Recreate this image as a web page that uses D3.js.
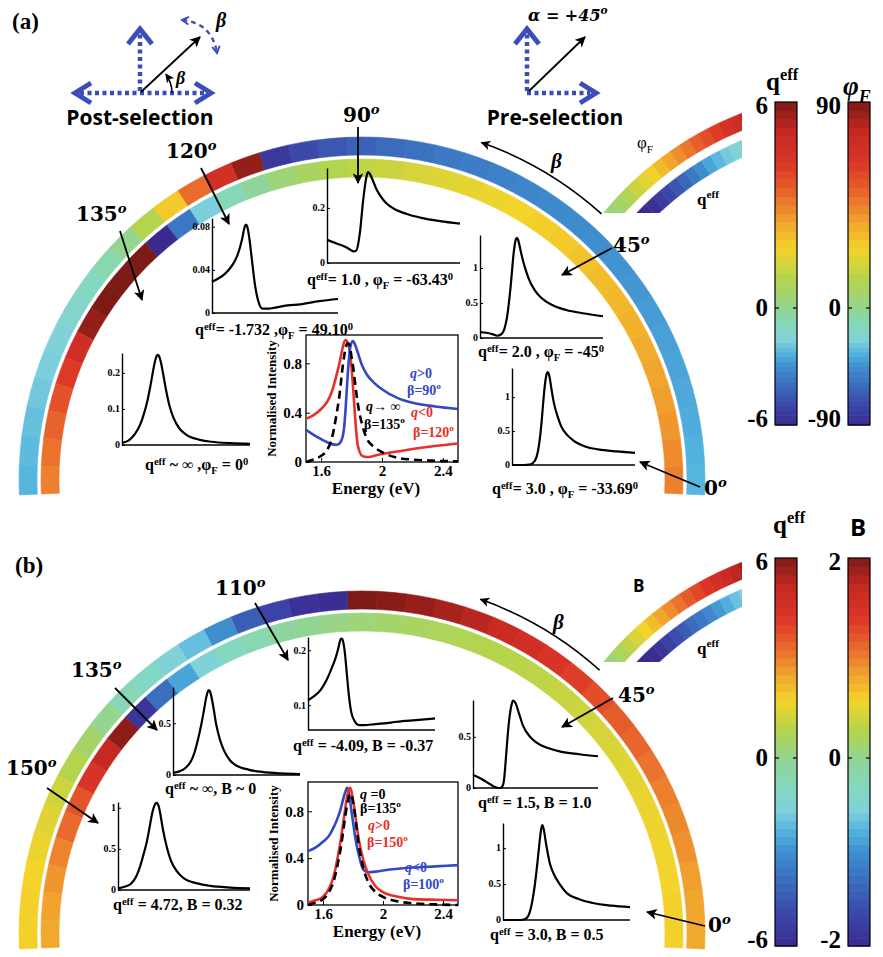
<!DOCTYPE html>
<html>
<head>
<meta charset="utf-8">
<script src="https://cdn.jsdelivr.net/npm/d3@7"></script>
<style>
  body { margin: 0; background: #fff; }
  svg { display: block; }
</style>
</head>
<body>
<div id="chart"></div>
<script>
// ---------------- data ----------------
// post-selection angle of every ring segment (deg)
var betaDeg = [0,5,10,15,20,25,30,35,40,45,50,55,60,65,70,75,80,85,90,
  95,100,105,110,115,120,125,130,135,140,145,150,155,160,165,170,175,180];

// panel (a): outer ring = phi_F (deg), inner ring = q_eff
var phiA = [-33.7,-35.2,-36.5,-37.8,-39.0,-40.2,-41.4,-42.6,-43.8,-45.0,-46.3,-47.6,-49.1,
  -50.7,-52.5,-54.6,-57.0,-59.9,-63.4,-68.0,-74.0,-82.4,85.9,69.5,49.1,28.6,12.0,0,
  -8.5,-14.6,-19.2,-22.8,-25.8,-28.2,-30.3,-32.1,-33.7];
var qeffA = [3.0,2.84,2.70,2.58,2.47,2.36,2.27,2.18,2.09,2.0,1.91,1.82,1.73,1.64,1.53,
  1.42,1.30,1.16,1.0,0.81,0.57,0.27,-0.14,-0.75,-1.73,-3.67,-9.4,99,13.4,7.67,5.73,
  4.75,4.15,3.73,3.43,3.19,3.0];

// panel (b): outer ring = B, inner ring = q_eff
var bB = [0.8,0.82,0.86,0.92,0.96,1.0,1.06,1.12,1.18,1.26,1.36,1.46,1.56,1.66,1.76,1.84,
  1.9,1.95,2.0,-1.95,-1.9,-1.7,-1.45,-1.0,-0.68,-0.52,-0.36,-0.24,0.0,0.16,0.28,0.4,
  0.48,0.54,0.58,0.6,0.6];
var qeffB = [1.8,1.78,1.74,1.7,1.64,1.58,1.5,1.42,1.32,1.2,1.1,1.0,0.92,0.84,0.76,0.66,
  0.56,0.44,0.3,0.12,-0.06,-0.3,-0.6,-0.95,-1.5,-2.6,-3.9,-5.6,5.8,5.1,4.4,3.7,3.3,
  2.95,2.7,2.5,2.4];

// small legend arcs (left end -> right end)
var legPhiA = [0,3,7,12,17,22,27,32,37,42,47,52,57,62,67,72,78,84,89];
var legQA = [-6,-6,-6,-6,-5.8,-5.4,-5,-4.6,-4.1,-3.6,-3.1,-2.6,-2.2,-1.8,-1.5,-1.2,-0.9,-0.7,-0.5];
var legBB = [0,0.1,0.22,0.34,0.46,0.58,0.7,0.82,0.94,1.06,1.18,1.3,1.42,1.54,1.65,1.75,1.85,1.93,2.0];
var legQB = [-6,-6,-6,-6,-5.9,-5.6,-5.2,-4.8,-4.4,-4.0,-3.6,-3.2,-2.8,-2.4,-2.0,-1.7,-1.4,-1.2,-1.0];

// energy grid of all spectra (eV)
var energy = [1.50,1.55,1.60,1.64,1.67,1.70,1.72,1.74,1.75,1.76,1.77,1.78,1.79,1.80,
  1.81,1.82,1.84,1.87,1.90,1.95,2.00,2.10,2.20,2.35,2.50];

// inset spectra, panel (a)
var specA90 = [0.084,0.075,0.066,0.058,0.050,0.042,0.045,0.085,0.12,0.17,0.22,0.26,0.295,
  0.32,0.33,0.325,0.305,0.27,0.245,0.215,0.198,0.178,0.165,0.152,0.143];
var specA120 = [0.029,0.032,0.036,0.041,0.046,0.053,0.060,0.069,0.075,0.080,0.082,0.080,
  0.074,0.066,0.056,0.046,0.027,0.010,0.004,0.004,0.005,0.007,0.008,0.011,0.013];
var specA135 = [0.006,0.012,0.03,0.055,0.085,0.125,0.16,0.2,0.219,0.235,0.246,0.25,0.246,
  0.235,0.219,0.2,0.16,0.11,0.077,0.045,0.029,0.015,0.009,0.005,0.003];
var specA45 = [0.086,0.075,0.055,0.032,0.05,0.14,0.30,0.58,0.75,0.95,1.15,1.30,1.40,1.43,
  1.40,1.33,1.17,0.98,0.83,0.67,0.57,0.46,0.40,0.35,0.31];
var specA0 = [0,0,0,0.005,0.03,0.12,0.30,0.62,0.84,1.05,1.22,1.33,1.37,1.34,1.25,1.13,
  0.92,0.72,0.57,0.44,0.36,0.27,0.23,0.20,0.18];
// normalised spectra, panel (a)
var normA120 = [0.35,0.38,0.43,0.49,0.57,0.70,0.80,0.92,0.97,0.99,0.98,0.95,0.88,0.76,
  0.60,0.42,0.14,0.05,0.04,0.05,0.065,0.085,0.105,0.13,0.15];
var normA90 = [0.26,0.22,0.185,0.16,0.145,0.14,0.15,0.20,0.27,0.42,0.62,0.80,0.92,0.97,
  0.98,0.96,0.89,0.78,0.71,0.64,0.59,0.52,0.48,0.45,0.43];
var normA135 = [0.0,0.02,0.05,0.10,0.19,0.38,0.54,0.76,0.85,0.92,0.96,0.96,0.92,0.85,0.77,
  0.67,0.48,0.30,0.19,0.12,0.08,0.035,0.02,0.01,0.005];

// inset spectra, panel (b)
var specB110 = [0.109,0.117,0.128,0.143,0.158,0.175,0.188,0.205,0.215,0.221,0.220,0.212,
  0.196,0.172,0.146,0.122,0.088,0.070,0.064,0.064,0.065,0.067,0.070,0.073,0.076];
var specB135 = [0.02,0.035,0.07,0.13,0.22,0.36,0.47,0.60,0.67,0.74,0.79,0.82,0.81,0.77,
  0.71,0.64,0.49,0.34,0.24,0.14,0.09,0.05,0.03,0.015,0.008];
var specB150 = [0.02,0.04,0.08,0.17,0.30,0.47,0.60,0.77,0.86,0.94,1.00,1.04,1.06,1.05,
  1.01,0.93,0.74,0.52,0.36,0.22,0.14,0.08,0.05,0.03,0.02];
var specB45 = [0.127,0.10,0.065,0.035,0.012,0.0,0.0,0.03,0.10,0.24,0.40,0.55,0.67,0.76,
  0.82,0.855,0.83,0.72,0.61,0.51,0.45,0.39,0.355,0.33,0.31];
var specB0 = [0,0,0,0,0.01,0.06,0.17,0.36,0.48,0.62,0.78,0.95,1.12,1.26,1.32,1.27,1.05,
  0.78,0.64,0.49,0.38,0.29,0.24,0.20,0.18];
// normalised spectra, panel (b)
var normB100 = [0.46,0.49,0.54,0.59,0.66,0.75,0.83,0.93,0.97,1.0,0.97,0.90,0.80,0.71,0.62,
  0.54,0.42,0.30,0.28,0.285,0.295,0.31,0.32,0.33,0.34];
var normB150 = [0.02,0.04,0.07,0.14,0.24,0.42,0.57,0.75,0.84,0.92,0.98,1.0,0.97,0.90,0.82,
  0.72,0.55,0.38,0.27,0.16,0.11,0.07,0.05,0.045,0.04];
var normB135 = [0.0,0.02,0.05,0.11,0.20,0.36,0.50,0.68,0.77,0.85,0.91,0.95,0.94,0.88,0.80,
  0.70,0.50,0.31,0.20,0.11,0.07,0.03,0.015,0.005,0.0];

// ---------------- setup ----------------
var W = 883, H = 957;
var serif = "'Liberation Serif','Times New Roman',serif";
var dserif = "'DejaVu Serif',serif";
var sans = "'Open Sans','Liberation Sans',sans-serif";
var blueArrow = "#3b4db8";
var lineBlue = "#3447c4", lineRed = "#e8302a";

var svg = d3.select("#chart").append("svg")
  .attr("width", W).attr("height", H);

// jet-like colour map (t in 0..1)
var jet = d3.scaleLinear()
  .domain([0,0.08,0.17,0.25,0.31,0.36,0.42,0.49,0.57,0.645,0.72,0.78,0.85,0.93,1])
  .range(["#3a2a8e","#3b45a8","#3a6cbd","#3f8fcf","#55b4de","#80d0dc","#84d8c0",
          "#8fd59a","#b4d44c","#f4d42a","#f09a2e","#e8662c","#dc3628","#c42822","#7c1a16"])
  .clamp(true);
var tQ = d3.scaleLinear().domain([-6, 6]).range([0, 1]).clamp(true);
var tPhi = d3.scaleLinear().domain([-90, 90]).range([0, 1]).clamp(true);
var tB = d3.scaleLinear().domain([-2, 2]).range([0, 1]).clamp(true);

var defs = svg.append("defs");
defs.append("marker").attr("id", "ah")
  .attr("viewBox", "0 0 10 10").attr("refX", 9).attr("refY", 5)
  .attr("markerWidth", 6).attr("markerHeight", 6)
  .attr("orient", "auto-start-reverse")
  .append("path").attr("d", "M0,0 L10,5 L0,10 L2.5,5 z").attr("fill", "#000");
defs.append("marker").attr("id", "chev")
  .attr("viewBox", "0 0 10 10").attr("refX", 8).attr("refY", 5)
  .attr("markerWidth", 4).attr("markerHeight", 4)
  .attr("orient", "auto-start-reverse")
  .append("path").attr("d", "M1,1 L8,5 L1,9").attr("fill", "none")
  .attr("stroke", blueArrow).attr("stroke-width", 2);

// text with ^superscript, _subscript and *italic parts
function rich(g, x, y, parts, size, o) {
  o = o || {};
  var t = g.append("text").attr("x", x).attr("y", y)
    .attr("font-family", o.family || serif)
    .attr("font-weight", o.weight || "bold")
    .attr("font-style", o.style || "normal")
    .attr("font-size", size)
    .attr("text-anchor", o.anchor || "start")
    .attr("fill", o.fill || "#000");
  if (o.rotate) t.attr("transform", "rotate(" + o.rotate + "," + x + "," + y + ")");
  var sup = o.sup || 0.42;
  var cur = 0;
  parts.forEach(function(p) {
    var k = p[0], s = p.slice(1);
    if (k !== "^" && k !== "_" && k !== "*") { k = ""; s = p; }
    var off = k === "^" ? -sup * size : (k === "_" ? 0.28 * size : 0);
    var ts = t.append("tspan").text(s).attr("dy", off - cur);
    if (k === "^" || k === "_") ts.attr("font-size", size * 0.66);
    if (k === "*") ts.attr("font-style", "italic");
    cur = off;
  });
  return t;
}

function arrow(x1, y1, x2, y2) {
  svg.append("line")
    .attr("x1", x1).attr("y1", y1).attr("x2", x2).attr("y2", y2)
    .attr("stroke", "#000").attr("stroke-width", 1.8)
    .attr("marker-end", "url(#ah)");
}

// ---------------- rings ----------------
var arcGen = d3.arc();
function toAngle(b) { return (90 - b) * Math.PI / 180; }

function ring(cx, cy, r0, r1, values, tScale) {
  var step = betaDeg[1] - betaDeg[0];
  svg.append("g").attr("transform", "translate(" + cx + "," + cy + ")")
    .selectAll("path").data(betaDeg).join("path")
    .attr("d", function(b) {
      return arcGen({ innerRadius: r0, outerRadius: r1,
        startAngle: toAngle(b - step / 2), endAngle: toAngle(b + step / 2) });
    })
    .attr("fill", function(b, i) { return jet(tScale(values[i])); })
    .attr("stroke", function(b, i) { return jet(tScale(values[i])); })
    .attr("stroke-width", 0.6);
}

ring(362, 480, 325, 343, phiA, tPhi);
ring(362, 480, 303, 321, qeffA, tQ);
ring(362, 934, 325, 343, bB, tB);
ring(362, 934, 303, 321, qeffB, tQ);

// legend arcs (cut by a box)
function legendArc(id, cx, cy, clipBottom, outerVals, outerT, innerVals, innerT) {
  defs.append("clipPath").attr("id", id)
    .append("rect").attr("x", 560).attr("y", clipBottom - 160)
    .attr("width", 742 - 560).attr("height", 160);
  var g = svg.append("g").attr("clip-path", "url(#" + id + ")")
    .append("g").attr("transform", "translate(" + cx + "," + cy + ")");
  [[outerVals, outerT, 319, 335], [innerVals, innerT, 294, 310]].forEach(function(L) {
    var pos = d3.scaleLinear().domain([0, L[0].length]).range([142, 106]);
    g.append("g").selectAll("path").data(L[0]).join("path")
      .attr("d", function(v, i) {
        return arcGen({ innerRadius: L[2], outerRadius: L[3],
          startAngle: toAngle(pos(i)), endAngle: toAngle(pos(i + 1)) });
      })
      .attr("fill", function(v) { return jet(L[1](v)); })
      .attr("stroke", function(v) { return jet(L[1](v)); })
      .attr("stroke-width", 0.6);
  });
}
legendArc("clipLegA", 862, 426, 213, legPhiA, tPhi, legQA, tQ);
legendArc("clipLegB", 862, 875, 662, legBB, tB, legQB, tQ);

rich(svg, 637, 148, ["φ", "_F"], 17, { weight: "normal" });
rich(svg, 697, 205, ["q", "^eff"], 17);
rich(svg, 633, 592, ["B"], 17, { family: sans });
rich(svg, 697, 654, ["q", "^eff"], 17);

// curved beta arrows along the ring
function betaArrow(cx, cy, r, b0, b1, lx, ly) {
  var p = d3.path();
  var a0 = -b0 * Math.PI / 180, a1 = -b1 * Math.PI / 180;
  p.moveTo(cx + r * Math.cos(a0), cy + r * Math.sin(a0));
  p.arc(cx, cy, r, a0, a1, true);
  svg.append("path").attr("d", p.toString())
    .attr("fill", "none").attr("stroke", "#000").attr("stroke-width", 1.6)
    .attr("marker-end", "url(#ah)");
  rich(svg, lx, ly, ["β"], 21, { style: "italic" });
}
betaArrow(362, 480, 358, 48, 70.5, 551, 168);
betaArrow(362, 934, 355, 48, 70.5, 553, 629);

// ---------------- small inset spectra ----------------
function inset(cfg, values) {
  var x = d3.scaleLinear().domain([1.5, 2.5]).range([cfg.x0, cfg.x1]);
  var y = d3.scaleLinear().domain(cfg.dom).range([cfg.yb, cfg.yt]);
  var g = svg.append("g");
  var ax = g.append("g").attr("transform", "translate(" + cfg.x0 + ",0)")
    .call(d3.axisLeft(y).tickValues(cfg.ticks).tickSize(-3).tickSizeOuter(0)
      .tickPadding(2).tickFormat(function(d) { return String(d); }));
  ax.selectAll("text").attr("font-family", serif).attr("font-weight", "bold")
    .attr("font-size", 10).attr("fill", "#000").attr("dy", "0.28em");
  ax.select(".domain").attr("stroke-width", 1.4);
  g.append("line").attr("x1", cfg.x0).attr("x2", cfg.x1)
    .attr("y1", cfg.yb).attr("y2", cfg.yb)
    .attr("stroke", "#000").attr("stroke-width", 1.4);
  g.append("path").datum(values)
    .attr("d", d3.line().x(function(d, i) { return x(energy[i]); })
      .y(function(d) { return y(d); }).curve(d3.curveMonotoneX))
    .attr("fill", "none").attr("stroke", "#000").attr("stroke-width", 2.2);
}

inset({ x0: 327, x1: 460, yb: 263, yt: 168, dom: [0, 0.345], ticks: [0, 0.2] }, specA90);
inset({ x0: 212, x1: 338, yb: 313, yt: 218, dom: [0, 0.088], ticks: [0, 0.04, 0.08] }, specA120);
inset({ x0: 122, x1: 250, yb: 445, yt: 353, dom: [0, 0.255], ticks: [0, 0.1, 0.2] }, specA135);
inset({ x0: 480, x1: 603, yb: 338, yt: 235, dom: [0, 1.47], ticks: [0, 0.5, 1] }, specA45);
inset({ x0: 512, x1: 635, yb: 465, yt: 368, dom: [0, 1.43], ticks: [0, 0.5, 1] }, specA0);

inset({ x0: 308, x1: 435, yb: 730, yt: 637, dom: [0.055, 0.224], ticks: [0.1, 0.2] }, specB110);
inset({ x0: 173, x1: 300, yb: 775, yt: 687, dom: [0, 0.85], ticks: [0, 0.5] }, specB135);
inset({ x0: 118, x1: 250, yb: 890, yt: 802, dom: [0, 1.07], ticks: [0, 0.5, 1] }, specB150);
inset({ x0: 473, x1: 598, yb: 788, yt: 700, dom: [0, 0.86], ticks: [0, 0.5] }, specB45);
inset({ x0: 503, x1: 630, yb: 920, yt: 823, dom: [0, 1.35], ticks: [0, 0.5, 1] }, specB0);

// inset captions
var capSize = 16;
var capOpt = { sup: 0.34 };
rich(svg, 307, 285, ["q", "^eff", "= 1.0 , φ", "_F", " = -63.43", "^0"], capSize, capOpt);
rich(svg, 195, 335, ["q", "^eff", "= -1.732 ,φ", "_F", " = 49.10", "^0"], capSize, capOpt);
rich(svg, 145, 470, ["q", "^eff", " ~ ∞ ,φ", "_F", " = 0", "^0"], capSize, capOpt);
rich(svg, 478, 357, ["q", "^eff", "= 2.0 , φ", "_F", " = -45", "^0"], capSize, capOpt);
rich(svg, 492, 494, ["q", "^eff", "= 3.0 , φ", "_F", " = -33.69", "^0"], capSize, capOpt);
rich(svg, 293, 751, ["q", "^eff", " = -4.09, B = -0.37"], capSize, capOpt);
rich(svg, 165, 794, ["q", "^eff", " ~  ∞, B ~ 0"], capSize, capOpt);
rich(svg, 113, 910, ["q", "^eff", " = 4.72, B = 0.32"], capSize, capOpt);
rich(svg, 478, 808, ["q", "^eff", " = 1.5, B = 1.0"], capSize, capOpt);
rich(svg, 490, 940, ["q", "^eff", " = 3.0, B = 0.5"], capSize, capOpt);

// ---------------- normalised comparison plots ----------------
function mainPlot(cfg, series) {
  var x = d3.scaleLinear().domain([1.5, 2.5]).range([cfg.x0, cfg.x1]);
  var y = d3.scaleLinear().domain([0, cfg.top]).range([cfg.yb, cfg.yt]);
  var g = svg.append("g");
  g.append("rect").attr("x", cfg.x0).attr("y", cfg.yt)
    .attr("width", cfg.x1 - cfg.x0).attr("height", cfg.yb - cfg.yt)
    .attr("fill", "#fff").attr("stroke", "#000").attr("stroke-width", 1.3);
  var yAx = g.append("g").attr("transform", "translate(" + cfg.x0 + ",0)")
    .call(d3.axisLeft(y).tickValues([0, 0.4, 0.8]).tickSize(-4).tickSizeOuter(0)
      .tickPadding(4).tickFormat(function(d) { return String(d); }));
  var xAx = g.append("g").attr("transform", "translate(0," + cfg.yb + ")")
    .call(d3.axisBottom(x).tickValues([1.6, 2, 2.4]).tickSize(-4).tickSizeOuter(0)
      .tickPadding(3).tickFormat(function(d) { return String(d); }));
  [yAx, xAx].forEach(function(a) {
    a.select(".domain").remove();
    a.selectAll("text").attr("font-family", serif).attr("font-weight", "bold")
      .attr("font-size", 15).attr("fill", "#000");
  });
  series.forEach(function(s) {
    g.append("path").datum(s.vals)
      .attr("d", d3.line().x(function(d, i) { return x(energy[i]); })
        .y(function(d) { return y(d); }).curve(d3.curveMonotoneX))
      .attr("fill", "none").attr("stroke", s.color).attr("stroke-width", 2.6)
      .attr("stroke-dasharray", s.dash || null);
  });
  rich(svg, cfg.x0 - 30, (cfg.yt + cfg.yb) / 2, ["Normalised Intensity"], 13,
    { anchor: "middle", rotate: -90 });
  rich(svg, (cfg.x0 + cfg.x1) / 2 - 6, cfg.yb + 32, ["Energy (eV)"], 17, { anchor: "middle" });
}

mainPlot({ x0: 306, x1: 458, yb: 462, yt: 335, top: 1.03 }, [
  { vals: normA120, color: lineRed },
  { vals: normA90, color: lineBlue },
  { vals: normA135, color: "#000", dash: "8,5" }
]);
mainPlot({ x0: 308, x1: 458, yb: 905, yt: 782, top: 1.05 }, [
  { vals: normB100, color: lineBlue },
  { vals: normB150, color: lineRed },
  { vals: normB135, color: "#000", dash: "8,5" }
]);

rich(svg, 410, 378, ["*q", ">0"], 14, { fill: lineBlue });
rich(svg, 407, 395, ["β=90", "^o"], 14, { fill: lineBlue });
rich(svg, 366, 411, ["*q", "→ ∞"], 14);
rich(svg, 364, 429, ["β=135", "^o"], 14);
rich(svg, 411, 417, ["*q", "<0"], 14, { fill: lineRed });
rich(svg, 413, 437, ["β=120", "^o"], 14, { fill: lineRed });

rich(svg, 360, 799, ["*q", " =0"], 14);
rich(svg, 360, 813, ["β=135", "^o"], 14);
rich(svg, 368, 830, ["*q", ">0"], 14, { fill: lineRed });
rich(svg, 367, 847, ["β=150", "^o"], 14, { fill: lineRed });
rich(svg, 405, 872, ["*q", "<0"], 14, { fill: lineBlue });
rich(svg, 403, 889, ["β=100", "^o"], 14, { fill: lineBlue });

// ---------------- angle labels and pointers ----------------
function angleLabel(x, y, txt) {
  var t = rich(svg, x, y, [txt, "^o"], 20, { family: dserif });
  t.select("tspan:last-child").attr("font-style", "italic");
}
angleLabel(343, 122, "90");  arrow(358, 127, 358, 183);
angleLabel(166, 158, "120"); arrow(201, 168, 229, 224);
angleLabel(76, 221, "135");  arrow(120, 231, 142, 300);
angleLabel(613, 252, "45");  arrow(612, 248, 562, 275);
angleLabel(704, 495, "0");   arrow(700, 487, 640, 462);

angleLabel(215, 595, "110"); arrow(255, 603, 288, 660);
angleLabel(71, 677, "135");  arrow(115, 688, 157, 730);
angleLabel(6, 775, "150");   arrow(47, 788, 98, 823);
angleLabel(618, 702, "45");  arrow(613, 698, 562, 727);
angleLabel(708, 932, "0");   arrow(705, 926, 647, 912);

// ---------------- polariser sketches ----------------
function dotted(x1, y1, x2, y2) {
  svg.append("line").attr("x1", x1).attr("y1", y1).attr("x2", x2).attr("y2", y2)
    .attr("stroke", blueArrow).attr("stroke-width", 4.5)
    .attr("stroke-dasharray", "4,3.5");
}
function chevron(pts) {
  svg.append("polyline").attr("points", pts.map(function(p) { return p.join(","); }).join(" "))
    .attr("fill", "none").attr("stroke", blueArrow).attr("stroke-width", 5);
}

// post-selection
dotted(140, 91, 140, 33);
chevron([[128, 44], [140, 29], [152, 44]]);
dotted(80, 93, 206, 93);
chevron([[91, 83], [75, 93], [91, 103]]);
chevron([[195, 83], [211, 93], [195, 103]]);
arrow(141, 92, 200, 37);
var smallArc = d3.path();
smallArc.moveTo(140 + 32, 93);
smallArc.arc(140, 93, 32, 0, -36 * Math.PI / 180, true);
svg.append("path").attr("d", smallArc.toString()).attr("fill", "none")
  .attr("stroke", "#000").attr("stroke-width", 1.5).attr("marker-end", "url(#ah)");
rich(svg, 176, 84, ["β"], 18, { style: "italic" });
svg.append("path").attr("d", "M182,20 Q212,23 217,53")
  .attr("fill", "none").attr("stroke", blueArrow).attr("stroke-width", 2.4)
  .attr("stroke-dasharray", "5,4")
  .attr("marker-start", "url(#chev)").attr("marker-end", "url(#chev)");
rich(svg, 216, 27, ["β"], 20, { style: "italic" });
rich(svg, 140, 125, ["Post-selection"], 21, { family: sans, anchor: "middle" });

// pre-selection
dotted(527, 91, 527, 33);
chevron([[515, 44], [527, 29], [539, 44]]);
dotted(527, 93, 590, 93);
chevron([[580, 83], [596, 93], [580, 103]]);
arrow(529, 91, 585, 37);
rich(svg, 528, 21, ["α = +45", "^o"], 16, { family: dserif, style: "italic" });
rich(svg, 555, 125, ["Pre-selection"], 21, { family: sans, anchor: "middle" });

// panel letters
rich(svg, 12, 29, ["(a)"], 23);
rich(svg, 15, 573, ["(b)"], 23);

// ---------------- colour bars ----------------
function colorbar(x, vDom, yRange, tScale, labels) {
  var y = d3.scaleLinear().domain([vDom[0], 0, vDom[1]]).range(yRange);
  var n = 48, step = (vDom[1] - vDom[0]) / n;
  var vals = d3.range(n).map(function(i) { return vDom[0] + (i + 0.5) * step; });
  svg.append("g").selectAll("rect").data(vals).join("rect")
    .attr("x", x).attr("width", 22)
    .attr("y", function(v) { return y(v + step / 2); })
    .attr("height", function(v) { return y(v - step / 2) - y(v + step / 2) + 0.6; })
    .attr("fill", function(v) { return jet(tScale(v)); });
  svg.append("rect").attr("x", x).attr("y", yRange[2]).attr("width", 22)
    .attr("height", yRange[0] - yRange[2]).attr("fill", "none")
    .attr("stroke", "#000").attr("stroke-width", 1.2);
  [x, x + 18].forEach(function(tx) {
    svg.append("line").attr("x1", tx).attr("x2", tx + 4).attr("y1", y(0)).attr("y2", y(0))
      .attr("stroke", "#000").attr("stroke-width", 1.2);
  });
  var lv = [vDom[1], 0, vDom[0]];
  var dys = [12, 8, 2];
  lv.forEach(function(v, i) {
    rich(svg, x - 7, y(v) + dys[i], [labels[i]], 25, { anchor: "end" });
  });
}
colorbar(775, [-6, 6], [425, 308, 102], tQ, ["6", "0", "-6"]);
colorbar(848, [-90, 90], [425, 308, 102], tPhi, ["90", "0", "-90"]);
colorbar(775, [-6, 6], [946, 758, 558], tQ, ["6", "0", "-6"]);
colorbar(848, [-2, 2], [946, 758, 558], tB, ["2", "0", "-2"]);

rich(svg, 766, 90, ["q", "^eff"], 25);
rich(svg, 843, 95, ["φ", "_F"], 27, { style: "italic" });
rich(svg, 773, 533, ["q", "^eff"], 25);
rich(svg, 850, 536, ["B"], 24, { family: sans });
</script>
</body>
</html>
